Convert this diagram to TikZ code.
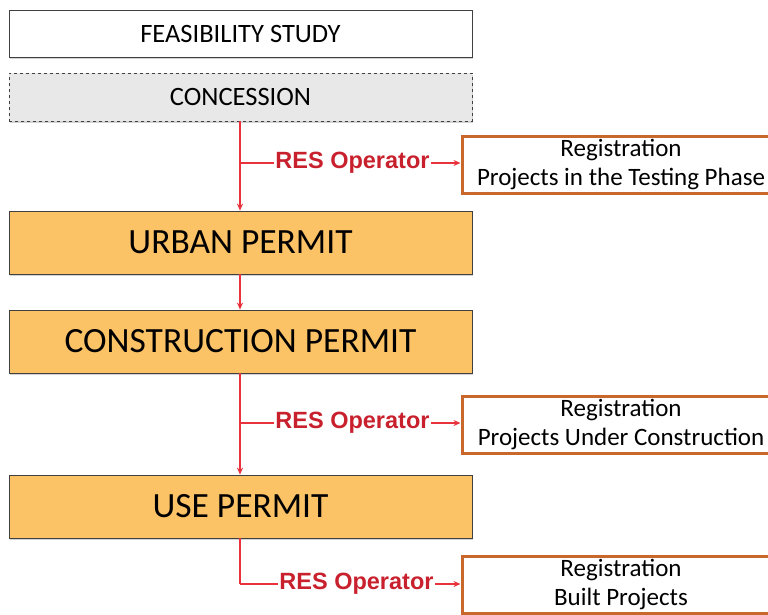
\documentclass[tikz,border=0pt]{standalone}
\usepackage{fontspec}
\setmainfont{Carlito}
\newfontfamily\opfont{Liberation Sans}
\usetikzlibrary{arrows.meta}
\usetikzlibrary{shadows}
\usetikzlibrary{positioning}
\definecolor{permitorange}{HTML}{FBC266}
\definecolor{linered}{HTML}{E8333C}
\definecolor{opred}{HTML}{C8202C}
\definecolor{regbrown}{HTML}{C8682C}

\begin{document}
\begin{tikzpicture}[x=1pt,y=-1pt,>={Stealth[length=7pt,width=6pt]},
	stage/.style={draw=black!75,line width=0.8pt,minimum width=463pt,inner sep=0pt,
		drop shadow={opacity=0.35,shadow xshift=1pt,shadow yshift=-2pt}},
	permit/.style={stage,fill=permitorange,minimum height=63pt,font=\fontsize{35.5}{38}\selectfont},
	registry/.style={draw=regbrown,line width=3pt,fill=white,minimum width=318pt,minimum height=57pt,
		inner sep=0pt,align=center,font=\fontsize{25}{29.5}\selectfont},
	operator/.style={text=opred,inner sep=1pt,font=\opfont\bfseries\fontsize{23.5}{25}\selectfont},
	flow/.style={draw=linered,line width=1.2pt}]
	\useasboundingbox (0,0) rectangle (768,614);
	\node[stage,fill=white,minimum height=47pt,font=\fontsize{26.5}{28}\selectfont] (feas) at (240.5,33.5) {FEASIBILITY STUDY};
	\node[stage,fill=black!9,dashed,minimum height=48pt,font=\fontsize{26.5}{28}\selectfont] (conc) at (240.5,97) {CONCESSION};
	\node[permit] (urban) at (240.5,242.5) {URBAN PERMIT};
	\node[permit] (constr) at (240.5,341.5) {CONSTRUCTION PERMIT};
	\node[permit] (use) at (240.5,506.5) {USE PERMIT};

	\node[registry] (reg1) at (621,164.5) {\raisebox{-3pt}{Registration}\\\raisebox{-3pt}{Projects in the Testing Phase}};
	\node[registry] (reg2) at (621,424.5) {\raisebox{-3pt}{Registration}\\\raisebox{-3pt}{Projects Under Construction}};
	\node[registry] (reg3) at (621,584.5) {\raisebox{-3pt}{Registration}\\\raisebox{-3pt}{Built Projects}};

	\node[operator] (op1) at (352.5,163) {RES Operator};
	\node[operator] (op2) at (352.5,423) {RES Operator};
	\node[operator] (op3) at (356.5,584) {RES Operator};

	\coordinate (b1) at (240,163);
	\coordinate (b2) at (240,423);
	\coordinate (b3) at (240,584);

	% main line
	\draw[flow,->] (conc.south -| b1) -- (urban.north -| b1);
	\draw[flow,->] (urban.south -| b1) -- (constr.north -| b1);
	\draw[flow,->] (constr.south -| b2) -- (use.north -| b2);
	\draw[flow] (use.south -| b3) -- (b3);

	% branches to the registry
	\draw[flow] (b1) -- (op1.west);
	\draw[flow,->] (op1.east) -- (reg1.west |- op1.east);
	\draw[flow] (b2) -- (op2.west);
	\draw[flow,->] (op2.east) -- (reg2.west |- op2.east);
	\draw[flow] (b3) -- (op3.west);
	\draw[flow,->] (op3.east) -- (reg3.west |- op3.east);
\end{tikzpicture}
\end{document}
